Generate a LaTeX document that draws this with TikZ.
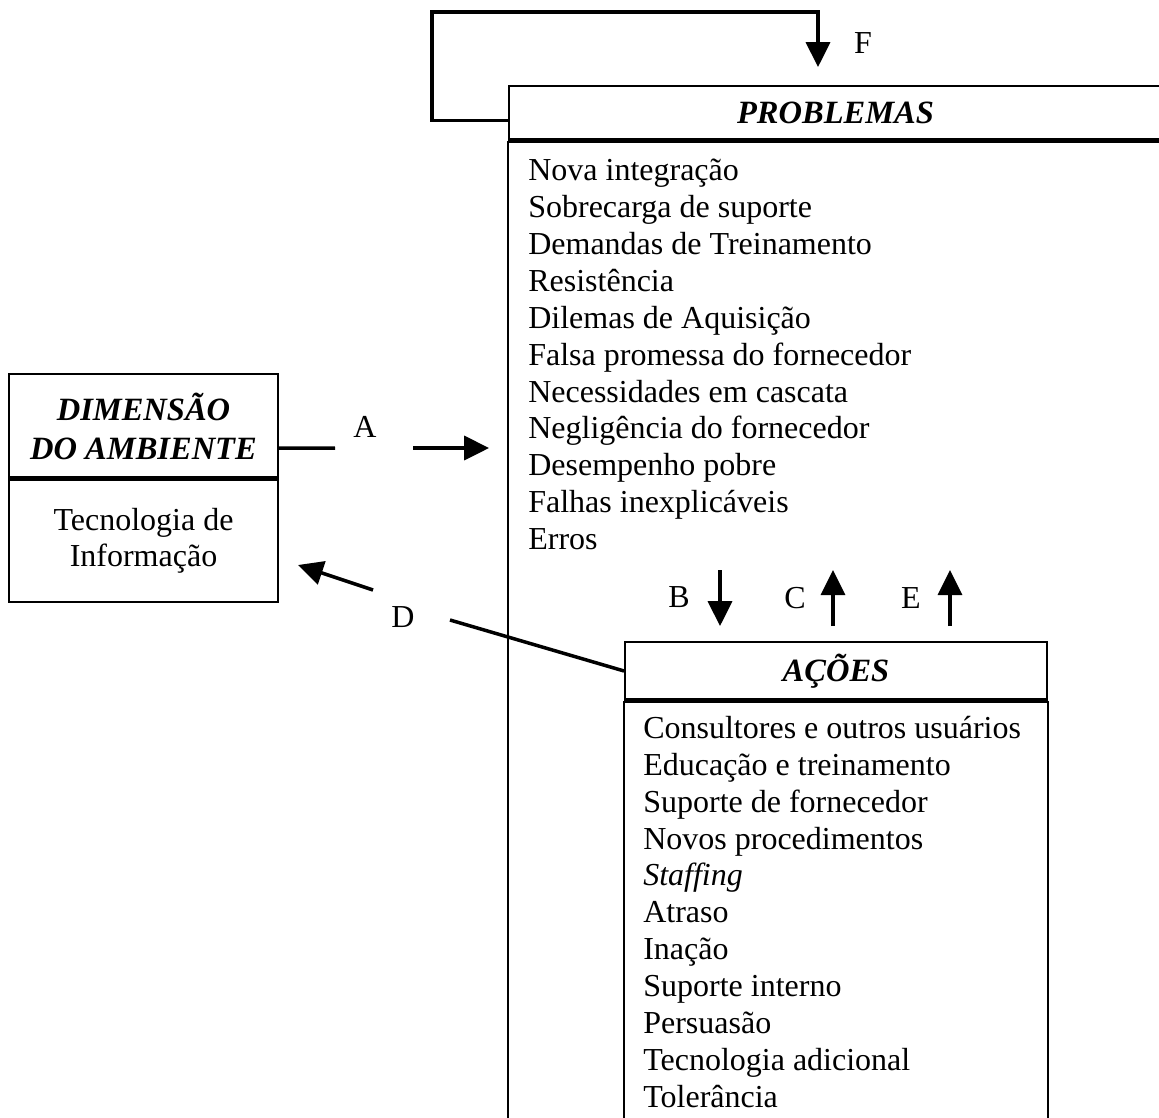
\documentclass[tikz,border=0pt]{standalone}
\usepackage{fontspec}
\setmainfont{Liberation Serif}
\usetikzlibrary{arrows.meta}
\usetikzlibrary{calc}

\begin{document}
\begin{tikzpicture}[
    x=1pt, y=-1pt,
    every node/.style={font=\fontsize{32}{36.9}\selectfont},
    caixa/.style={draw, line width=1.8pt},
    cabec/.style={draw, line width=1.8pt, inner sep=0pt, align=center,
      font=\fontsize{32.5}{42}\selectfont\bfseries\itshape},
    lista/.style={align=left, inner sep=0pt, anchor=north west},
    divisa/.style={line width=5pt},
    linha/.style={line width=3.5pt},
    seta/.style={linha, -{Triangle[length=25pt, width=24pt]}},
    rotulo/.style={inner sep=0pt}
  ]
    \useasboundingbox (0,0) rectangle (1159,1117);
    \clip (0,0) rectangle (1159,1117);

    % Dimensão do ambiente
    \node[cabec, minimum width=269pt, minimum height=104pt] (dim) at (143.5,426) {\raisebox{-3pt}{DIMENSÃO}\\DO AMBIENTE};
    \node[caixa, minimum width=269pt, minimum height=122pt, anchor=north, align=center, inner sep=0pt] (tec) at (dim.south) {Tecnologia de\\Informação};
    \draw[divisa] (dim.south west) -- (dim.south east);

    % Problemas
    \node[cabec, minimum width=653pt, minimum height=54pt] (prob) at (835.5,113) {PROBLEMAS};
    \draw[caixa] (prob.south west) -- ++(0,1000);
    \draw[divisa] (prob.south west) -- (prob.south east);
    \node[lista] (problist) at ([xshift=20pt, yshift=-18pt]prob.south west) {Nova integração\\Sobrecarga de suporte\\Demandas de Treinamento\\Resistência\\Dilemas de Aquisição\\Falsa promessa do fornecedor\\Necessidades em cascata\\Negligência do fornecedor\\Desempenho pobre\\Falhas inexplicáveis\\Erros};

    % Ações
    \node[cabec, minimum width=422pt, minimum height=58pt] (acoes) at (836,671) {AÇÕES};
    \draw[caixa] (acoes.south west) -- ++(0,500) (acoes.south east) -- ++(0,500);
    \draw[divisa] (acoes.south west) -- (acoes.south east);
    \node[lista] (acoeslist) at ([xshift=19pt, yshift=-15pt]acoes.south west) {Consultores e outros usuários\\Educação e treinamento\\Suporte de fornecedor\\Novos procedimentos\\\textit{Staffing}\\Atraso\\Inação\\Suporte interno\\Persuasão\\Tecnologia adicional\\Tolerância};

    % A
    \coordinate (a1) at (335,448);
    \coordinate (a2) at (413,448);
    \node[rotulo] (lA) at (365,427) {A};
    \draw[linha] ($(dim.north east)!0.71!(dim.south east)$) -- (a1);
    \draw[seta] (a2) -- ([xshift=-19pt]prob.south west |- a2);

    % D
    \coordinate (d1) at (450,620);
    \coordinate (d2) at (373,590);
    \coordinate (dfim) at (298,565);
    \node[rotulo] (lD) at (403,617) {D};
    \draw[linha] (acoes.west) -- (d1);
    \draw[seta] (d2) -- (dfim);

    % F
    \node[rotulo] (lF) at (863,43) {F};
    \draw[seta] ($(prob.north west)!0.63!(prob.south west)$) -| (432,12) -| ([yshift=18pt]prob.north -| 818,0);

    % B, C, E
    \coordinate (b1) at (720,570);
    \coordinate (c1) at (833,570);
    \coordinate (e1) at (950,570);
    \node[rotulo] (lB) at (679,597) {B};
    \node[rotulo] (lC) at (795,598) {C};
    \node[rotulo] (lE) at (911,598) {E};
    \draw[seta] (b1) -- ([yshift=15pt]acoes.north -| b1);
    \draw[seta] ([yshift=15pt]acoes.north -| c1) -- (c1);
    \draw[seta] ([yshift=15pt]acoes.north -| e1) -- (e1);

\end{tikzpicture}
\end{document}
